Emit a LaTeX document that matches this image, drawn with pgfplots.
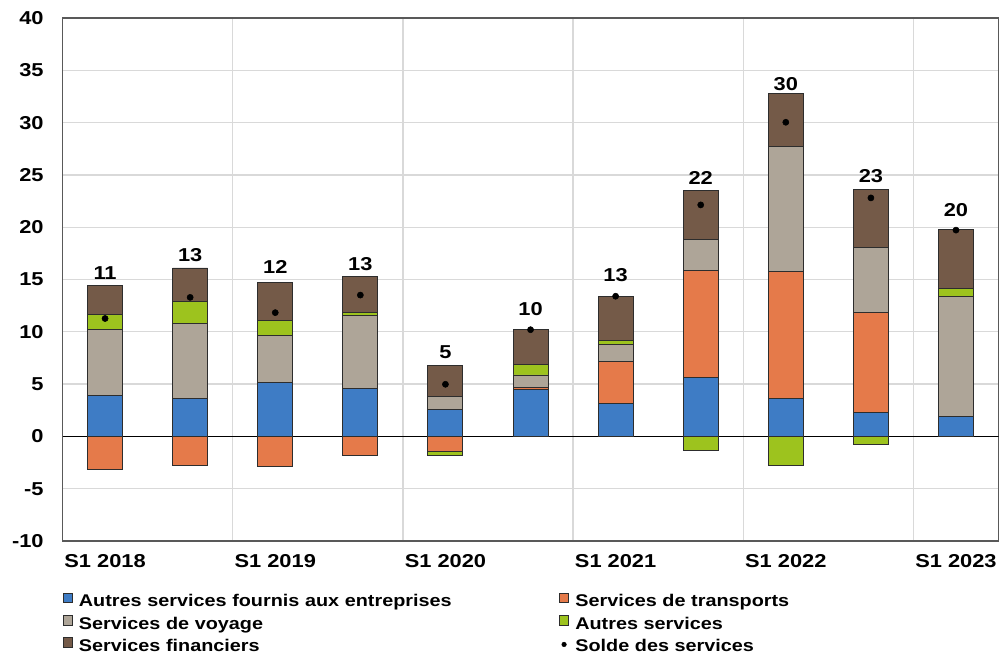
\documentclass[border=0pt]{standalone}
\usepackage{fontspec}
\setmainfont{Liberation Sans}[FakeStretch=1.17]
\usepackage{pgfplots}
\usepackage{pgfplotstable}
\pgfplotsset{compat=1.18}
\definecolor{cblue}{RGB}{62,124,197}
\definecolor{corange}{RGB}{229,122,74}
\definecolor{cgray}{RGB}{174,165,152}
\definecolor{cgreen}{RGB}{157,195,30}
\definecolor{cbrown}{RGB}{116,90,72}
\definecolor{frame}{RGB}{89,89,89}
\definecolor{gridc}{RGB}{217,217,217}
\definecolor{edge}{RGB}{45,45,45}
\pgfplotstableread{
x blue orP gray grP brown orN grN solde ly lab
0 3.95 0 6.25 1.5 2.76 -3.19 0 11.27 14.94 11
1 3.63 0 7.17 2.1 3.2 -2.81 0 13.29 16.7 13
2 5.12 0 4.53 1.45 3.6 -2.87 0 11.83 15.5 12
3 4.59 0 7.01 0.25 3.45 -1.79 0 13.51 15.83 13
4 2.55 0 1.28 0 2.93 -1.43 -0.35 4.98 7.4 5
5 4.47 0.22 1.18 1.01 3.32 0 0 10.2 11.55 10
6 3.19 4.01 1.57 0.38 4.25 0 0 13.4 14.74 13
7 5.67 10.23 2.9 0 4.7 0 -1.37 22.13 24.1 22
8 3.63 12.14 11.99 0 5.04 0 -2.77 30.03 33.0 30
9 2.33 9.56 6.21 0 5.5 0 -0.8 22.8 24.2 23
10 1.88 0 11.47 0.8 5.62 -0.05 0 19.72 20.95 20
}\data
\begin{document}
\begin{tikzpicture}
\pgfplotsset{
  common/.style={
    at={(0,0)}, anchor=south west, scale only axis,
    width=702pt, height=392.25pt,
    xmin=-0.5, xmax=10.5, ymin=-10, ymax=40,
  },
  barsty/.style={draw=edge, line width=0.7pt, fill=#1},
}
\begin{axis}[common,
  ybar stacked, bar width=26.25pt,
  ytick={-10,-5,...,40},
  xtick={0,2,...,10},
  xticklabels={S1 2018,S1 2019,S1 2020,S1 2021,S1 2022,S1 2023},
  minor xtick={1.5,3.5,5.5,7.5,9.5},
  ymajorgrids, xminorgrids,
  major grid style={draw=gridc, line width=1pt},
  minor grid style={draw=gridc, line width=1pt},
  tick style={draw=none},
  axis line style={draw=frame, line width=0.9pt},
  /pgf/number format/assume math mode=true,
  ticklabel style={font=\bfseries\fontsize{14}{16}\selectfont},
  yticklabel style={anchor=east, inner sep=0pt, xshift=-14pt},
  xticklabel style={anchor=north, inner sep=0pt, yshift=-9.75pt},
  legend columns=2,
  legend cell align=left,
  legend style={at={(rel axis cs:0,0)}, anchor=north west, yshift=-38.75pt,
    draw=none, fill=none, inner sep=0pt, outer sep=0pt,
    font=\bfseries\fontsize{12.7}{14}\selectfont,
    row sep=5.1pt,
    nodes={inner sep=0pt, text height=9.5pt, text depth=1pt, text width=360pt, align=left},
    /tikz/every odd column/.style={column sep=4.6pt},
  },
  legend image code/.code={\draw[#1] (0pt,-1.1pt) rectangle (7pt,6.1pt);},
]
\addplot[barsty=corange, forget plot] table[x=x,y=orN]{\data};
\addplot[barsty=cgreen, forget plot] table[x=x,y=grN]{\data};
\addplot[barsty=cblue] table[x=x,y=blue]{\data};
\addlegendentry{Autres services fournis aux entreprises}
\addplot[barsty=corange] table[x=x,y=orP]{\data};
\addlegendentry{Services de transports}
\addplot[barsty=cgray] table[x=x,y=gray]{\data};
\addlegendentry{Services de voyage}
\addplot[barsty=cgreen] table[x=x,y=grP]{\data};
\addlegendentry{Autres services}
\addplot[barsty=cbrown] table[x=x,y=brown]{\data};
\addlegendentry{Services financiers}
\addlegendimage{legend image code/.code={\fill[black] (3.5pt,1.2pt) circle (1.7pt);}}
\addlegendentry{Solde des services}
\draw[black, line width=0.8pt] (axis cs:-0.5,0) -- (axis cs:10.5,0);
\end{axis}
\begin{axis}[common, hide axis]
\addplot[only marks, mark=*, mark size=2.3pt, black] table[x=x,y=solde]{\data};
\addplot[draw=none, mark=none, nodes near coords, point meta=explicit symbolic,
  nodes near coords style={anchor=south, inner sep=0pt, font=\bfseries\fontsize{14}{16}\selectfont}]
  table[x=x,y=ly,meta=lab]{\data};
\end{axis}
\pgfresetboundingbox
\path (-46.9pt,-85.5pt) rectangle (703.1pt,405.75pt);
\end{tikzpicture}
\end{document}
